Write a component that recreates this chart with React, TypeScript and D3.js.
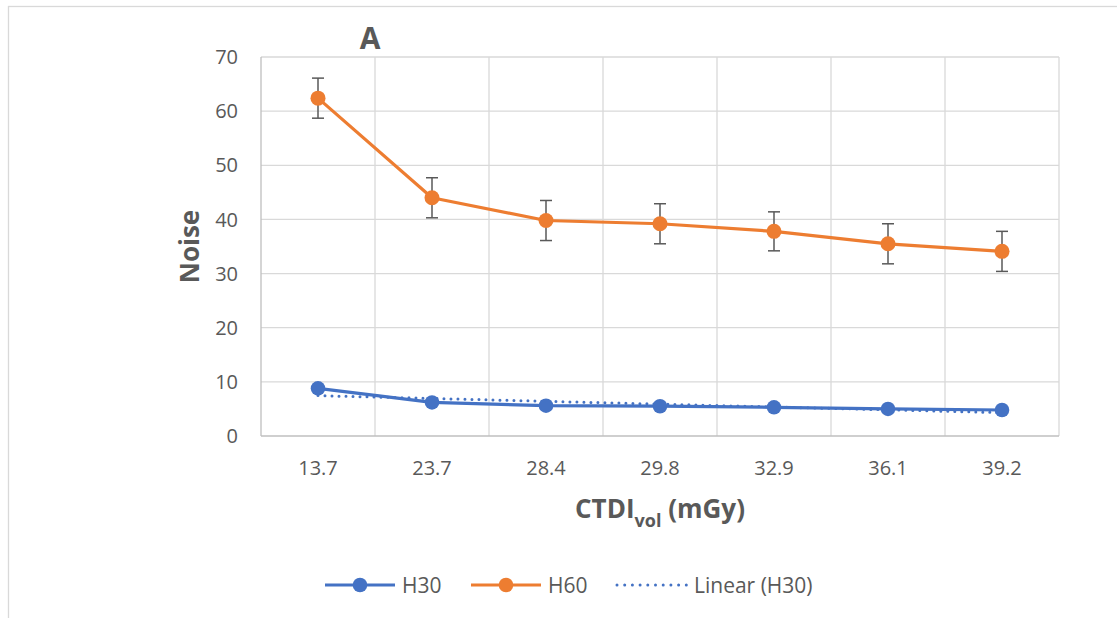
import React, { useEffect, useRef } from 'react'
import * as d3 from 'd3'

// chart data
const categories = ['13.7', '23.7', '28.4', '29.8', '32.9', '36.1', '39.2']
const h30 = [8.8, 6.2, 5.6, 5.5, 5.3, 5.0, 4.8]
const h60 = [62.4, 44.0, 39.8, 39.2, 37.8, 35.5, 34.1]
const h60Err = [3.7, 3.7, 3.7, 3.7, 3.6, 3.7, 3.7]
const yTicks = [0, 10, 20, 30, 40, 50, 60, 70]

const BLUE = '#4472C4'
const ORANGE = '#ED7D31'
const TEXT = '#595959'
const FONT = '"Open Sans", sans-serif'

export default function App() {
  const ref = useRef<SVGSVGElement>(null)

  useEffect(() => {
    const svg = d3.select(ref.current)
    svg.selectAll('*').remove()

    const margin = { top: 57, left: 261 }
    const width = 798
    const height = 379

    // outer chart border (clipped by the window)
    svg.append('rect')
      .attr('x', 8.5).attr('y', 6.5)
      .attr('width', 1300).attr('height', 800)
      .attr('fill', '#fff')
      .attr('stroke', '#d9d9d9')
      .attr('stroke-width', 1.3)

    const g = svg.append('g')
      .attr('transform', 'translate(' + margin.left + ',' + margin.top + ')')

    const x = d3.scaleBand().domain(categories).range([0, width])
    const y = d3.scaleLinear().domain([0, 70]).range([height, 0])
    const cx = (i: number) => (x(categories[i]) as number) + x.bandwidth() / 2

    // gridlines
    g.selectAll('.hgrid')
      .data(yTicks.slice(1))
      .enter().append('line')
      .attr('x1', 0).attr('x2', width)
      .attr('y1', d => y(d)).attr('y2', d => y(d))
      .attr('stroke', '#d9d9d9').attr('stroke-width', 1.3)

    g.selectAll('.vgrid')
      .data(categories)
      .enter().append('line')
      .attr('x1', d => (x(d) as number) + x.bandwidth())
      .attr('x2', d => (x(d) as number) + x.bandwidth())
      .attr('y1', 0).attr('y2', height)
      .attr('stroke', '#d9d9d9').attr('stroke-width', 1.3)

    // axis lines
    g.append('line')
      .attr('x1', 0).attr('x2', 0).attr('y1', 0).attr('y2', height)
      .attr('stroke', '#bfbfbf').attr('stroke-width', 1.3)
    g.append('line')
      .attr('x1', 0).attr('x2', width).attr('y1', height).attr('y2', height)
      .attr('stroke', '#bfbfbf').attr('stroke-width', 1.3)

    // y tick labels
    g.selectAll('.ylab')
      .data(yTicks)
      .enter().append('text')
      .attr('x', -23)
      .attr('y', d => y(d))
      .attr('dy', '0.36em')
      .attr('text-anchor', 'end')
      .style('font-family', FONT).style('font-size', '20px')
      .attr('fill', TEXT)
      .text(d => d)

    // x tick labels
    g.selectAll('.xlab')
      .data(categories)
      .enter().append('text')
      .attr('x', (d, i) => cx(i))
      .attr('y', height + 39)
      .attr('text-anchor', 'middle')
      .style('font-family', FONT).style('font-size', '20px')
      .attr('fill', TEXT)
      .text(d => d)

    // linear trendline for H30
    const n = h30.length
    const mx = (n + 1) / 2
    const my = d3.mean(h30) as number
    let sxy = 0
    let sxx = 0
    h30.forEach((v, i) => {
      sxy += (i + 1 - mx) * (v - my)
      sxx += (i + 1 - mx) * (i + 1 - mx)
    })
    const slope = sxy / sxx
    const icpt = my - slope * mx
    g.append('line')
      .attr('x1', cx(0)).attr('y1', y(icpt + slope * 1))
      .attr('x2', cx(n - 1)).attr('y2', y(icpt + slope * n))
      .attr('stroke', BLUE).attr('stroke-width', 3)
      .attr('stroke-linecap', 'round')
      .attr('stroke-dasharray', '0 7')

    const line = d3.line<number>()
      .x((d, i) => cx(i))
      .y(d => y(d))

    // H30
    g.append('path')
      .attr('d', line(h30))
      .attr('fill', 'none').attr('stroke', BLUE).attr('stroke-width', 3.2)
      .attr('stroke-linejoin', 'round')
    g.selectAll('.h30dot')
      .data(h30)
      .enter().append('circle')
      .attr('cx', (d, i) => cx(i)).attr('cy', d => y(d))
      .attr('r', 7.3).attr('fill', BLUE)

    // H60 error bars
    const eb = g.selectAll('.err').data(h60).enter().append('g')
    eb.append('line')
      .attr('x1', (d, i) => cx(i)).attr('x2', (d, i) => cx(i))
      .attr('y1', (d, i) => y(d + h60Err[i])).attr('y2', (d, i) => y(d - h60Err[i]))
      .attr('stroke', TEXT).attr('stroke-width', 1.5)
    eb.append('line')
      .attr('x1', (d, i) => cx(i) - 6).attr('x2', (d, i) => cx(i) + 6)
      .attr('y1', (d, i) => y(d + h60Err[i])).attr('y2', (d, i) => y(d + h60Err[i]))
      .attr('stroke', TEXT).attr('stroke-width', 1.5)
    eb.append('line')
      .attr('x1', (d, i) => cx(i) - 6).attr('x2', (d, i) => cx(i) + 6)
      .attr('y1', (d, i) => y(d - h60Err[i])).attr('y2', (d, i) => y(d - h60Err[i]))
      .attr('stroke', TEXT).attr('stroke-width', 1.5)

    // H60
    g.append('path')
      .attr('d', line(h60))
      .attr('fill', 'none').attr('stroke', ORANGE).attr('stroke-width', 3.2)
      .attr('stroke-linejoin', 'round')
    g.selectAll('.h60dot')
      .data(h60)
      .enter().append('circle')
      .attr('cx', (d, i) => cx(i)).attr('cy', d => y(d))
      .attr('r', 7.5).attr('fill', ORANGE)

    // title
    svg.append('text')
      .attr('x', 370).attr('y', 49)
      .attr('text-anchor', 'middle')
      .style('font-family', FONT).style('font-size', '30px').style('font-weight', 'bold')
      .attr('fill', TEXT)
      .text('A')

    // y axis title
    svg.append('text')
      .attr('transform', 'translate(199,' + (margin.top + height / 2) + ') rotate(-90)')
      .attr('text-anchor', 'middle')
      .style('font-family', FONT).style('font-size', '26px').style('font-weight', 'bold')
      .attr('fill', TEXT)
      .text('Noise')

    // x axis title
    const xt = svg.append('text')
      .attr('x', margin.left + width / 2).attr('y', 518)
      .attr('text-anchor', 'middle')
      .style('font-family', FONT).style('font-size', '26px').style('font-weight', 'bold')
      .attr('fill', TEXT)
    xt.append('tspan').text('CTDI')
    xt.append('tspan').attr('dy', 9).style('font-size', '18px').text('vol')
    xt.append('tspan').attr('dy', -9).text(' (mGy)')

    // legend
    const ly = 585
    const legend = [
      { name: 'H30', color: BLUE, x0: 325, dotted: false },
      { name: 'H60', color: ORANGE, x0: 471, dotted: false },
      { name: 'Linear (H30)', color: BLUE, x0: 617, dotted: true }
    ]
    legend.forEach(function(item) {
      const lg = svg.append('g')
      const ln = lg.append('line')
        .attr('x1', item.x0).attr('x2', item.x0 + 70)
        .attr('y1', ly).attr('y2', ly)
        .attr('stroke', item.color)
      if (item.dotted) {
        ln.attr('stroke-width', 3).attr('stroke-linecap', 'round').attr('stroke-dasharray', '0 7.7')
      } else {
        ln.attr('stroke-width', 3.2)
        lg.append('circle')
          .attr('cx', item.x0 + 35).attr('cy', ly).attr('r', 7.3)
          .attr('fill', item.color)
      }
      lg.append('text')
        .attr('x', item.x0 + 77).attr('y', ly)
        .attr('dy', '0.36em')
        .style('font-family', FONT).style('font-size', '21px')
        .attr('fill', TEXT)
        .text(item.name)
    })
  }, [])

  return (
    <svg ref={ref} width={1117} height={618}
      style={{ position: 'absolute', left: 0, top: 0, background: '#fff' }} />
  )
}
